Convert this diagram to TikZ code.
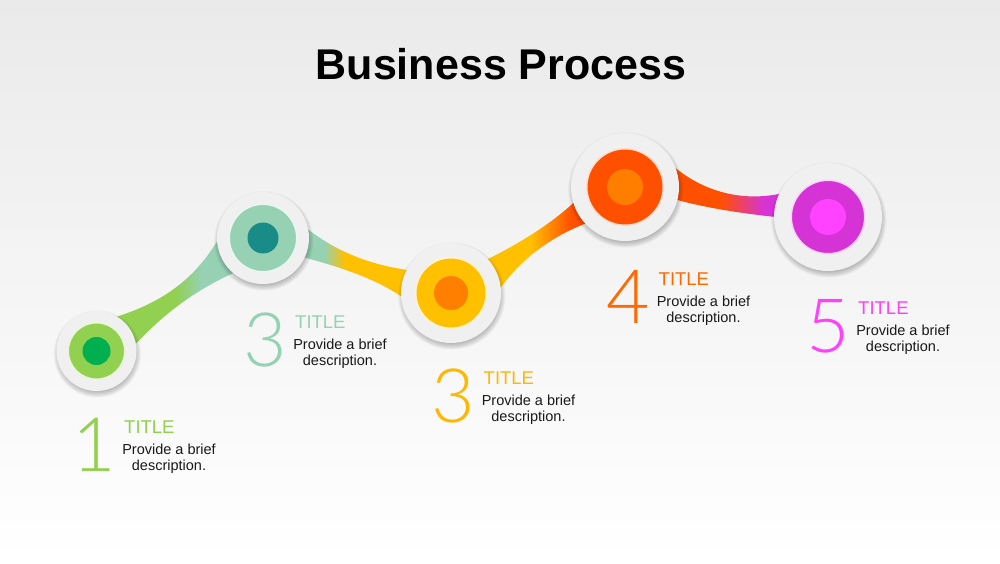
\documentclass[tikz,border=0pt]{standalone}
\usepackage{fontspec}
\setmainfont{Liberation Sans}
\newfontfamily\numfont{Lato Light}
\usetikzlibrary{calc}
\definecolor{bgtop}{RGB}{234,234,234}
\definecolor{plategray}{RGB}{240,240,240}
\definecolor{desctext}{RGB}{25,25,25}
\definecolor{ringA}{RGB}{146,208,80}
\definecolor{dotA}{RGB}{0,176,80}
\definecolor{ringB}{RGB}{150,209,180}
\definecolor{dotB}{RGB}{26,140,136}
\definecolor{ringC}{RGB}{255,192,0}
\definecolor{dotC}{RGB}{255,128,0}
\definecolor{ringD}{RGB}{255,80,0}
\definecolor{dotD}{RGB}{255,126,0}
\definecolor{ringE}{RGB}{214,51,214}
\definecolor{dotE}{RGB}{255,66,255}
\definecolor{txtA}{RGB}{146,208,80}
\definecolor{txtB}{RGB}{148,210,180}
\definecolor{txtC}{RGB}{255,184,0}
\definecolor{txtD}{RGB}{255,106,0}
\definecolor{txtE}{RGB}{255,64,255}
\pgfdeclarehorizontalshading{ribAB}{100bp}{color(0bp)=(ringA); color(50bp)=(ringA); color(61bp)=(ringB); color(100bp)=(ringB)}
\pgfdeclarehorizontalshading{ribBC}{100bp}{color(0bp)=(ringB); color(35bp)=(ringB); color(45bp)=(ringC); color(100bp)=(ringC)}
\pgfdeclarehorizontalshading{ribCD}{100bp}{color(0bp)=(ringC); color(47bp)=(ringC); color(67bp)=(ringD); color(100bp)=(ringD)}
\pgfdeclarehorizontalshading{ribDE}{100bp}{color(0bp)=(ringD); color(47bp)=(ringD); color(67bp)=(ringE); color(100bp)=(ringE)}
\newcommand\bigdisc[6]{%
  \foreach \i in {1,...,9} {\fill[black,opacity=0.032] ($(p#1)+(0.8pt,-3pt)$) circle[radius={#2pt-3.5pt+\i*0.8pt}];}
  \node[plate,minimum size=#2*2pt] (c#1) at (p#1) {};
  \node[ringnode,fill=#5,draw=white!80!#5,minimum size=#3*2pt+1.5pt] (r#1) at (p#1) {};
  \node[dotnode,fill=#6,minimum size=#4*2pt] (k#1) at (p#1) {};
}
\newcommand\procitem[5]{%
  \node[numtxt,text=#4] (n#1) at (#2,#3) {#5};
  \node[titletxt,text=#4] (t#1) at (#2+30,#3+38) {TITLE};
  \node[desctxt] (d#1a) at (#2+75,#3+17) {Provide a brief};
  \node[desctxt] (d#1b) at (#2+75,#3+1) {description.};
}
\begin{document}
\begin{tikzpicture}[x=1pt,y=1pt,
  plate/.style={circle,inner sep=0pt,fill=plategray},
  ringnode/.style={circle,inner sep=0pt,line width=1.5pt},
  dotnode/.style={circle,inner sep=0pt},
  numtxt/.style={anchor=base,inner sep=0pt,font=\numfont\fontsize{75}{75}\selectfont},
  titletxt/.style={anchor=base west,inner sep=0pt,font=\fontsize{18.5}{18.5}\selectfont},
  desctxt/.style={anchor=base,inner sep=0pt,text=desctext,font=\fontsize{14.5}{14.5}\selectfont},
  headtxt/.style={anchor=base,inner sep=0pt,font=\bfseries\fontsize{43}{43}\selectfont}]
\useasboundingbox (0,0) rectangle (1000,563);
\fill[top color=bgtop,bottom color=white] (0,0) rectangle (1000,563);

\coordinate (p1) at (96.5,212);
\coordinate (p2) at (263,325);
\coordinate (p3) at (451,270);
\coordinate (p4) at (625,376);
\coordinate (p5) at (828,346);

% ribbons
\path[shading=ribAB]
  ($(p1)+(62:38pt)$) .. controls ($(p1)!0.4!(p2)!3.5pt!90:(p2)$) and ($(p1)!0.6!(p2)!3.5pt!90:(p2)$) .. ($(p2)+(180:44pt)$)
  -- ($(p2)+(231:44pt)$) .. controls ($(p1)!0.6!(p2)!5.8pt!-90:(p2)$) and ($(p1)!0.4!(p2)!5.8pt!-90:(p2)$) .. ($(p1)+(8:38pt)$) -- cycle;
\path[shading=ribBC]
  ($(p2)+(13.7:44pt)$) .. controls ($(p2)!0.4!(p3)!5.3pt!90:(p3)$) and ($(p2)!0.6!(p3)!5.3pt!90:(p3)$) .. ($(p3)+(151.5:48pt)$)
  -- ($(p3)+(185.8:48pt)$) .. controls ($(p2)!0.6!(p3)!6.5pt!-90:(p3)$) and ($(p2)!0.4!(p3)!6.5pt!-90:(p3)$) .. ($(p2)+(-25.5:44pt)$) -- cycle;
\path[shading=ribCD]
  ($(p3)+(43.4:48pt)$) .. controls ($(p3)!0.4!(p4)!6.8pt!90:(p4)$) and ($(p3)!0.6!(p4)!6.8pt!90:(p4)$) .. ($(p4)+(196:52pt)$)
  -- ($(p4)+(223.6:52pt)$) .. controls ($(p3)!0.6!(p4)!5pt!-90:(p4)$) and ($(p3)!0.4!(p4)!5pt!-90:(p4)$) .. ($(p3)+(3.4:48pt)$) -- cycle;
\path[shading=ribDE]
  ($(p4)+(24.6:52pt)$) .. controls ($(p4)!0.4!(p5)!4pt!90:(p5)$) and ($(p4)!0.6!(p5)!4pt!90:(p5)$) .. ($(p5)+(153:52pt)$)
  -- ($(p5)+(180:52pt)$) .. controls ($(p4)!0.6!(p5)!9pt!-90:(p5)$) and ($(p4)!0.4!(p5)!9pt!-90:(p5)$) .. ($(p4)+(-13.8:52pt)$) -- cycle;

% discs
\bigdisc{1}{40}{27.5}{14}{ringA}{dotA}
\bigdisc{2}{46}{33}{15.5}{ringB}{dotB}
\bigdisc{3}{50}{34.5}{17}{ringC}{dotC}
\bigdisc{4}{54}{37.5}{18}{ringD}{dotD}
\bigdisc{5}{54}{36}{18}{ringE}{dotE}

% title
\node[headtxt] (head) at (501,483) {Business Process};

% texts
\procitem{1}{94}{92}{txtA}{1}
\procitem{2}{265}{197}{txtB}{3}
\procitem{3}{453.5}{141}{txtC}{3}
\procitem{4}{628.5}{240}{txtD}{4}
\procitem{5}{828}{211}{txtE}{5}
\end{tikzpicture}
\end{document}
